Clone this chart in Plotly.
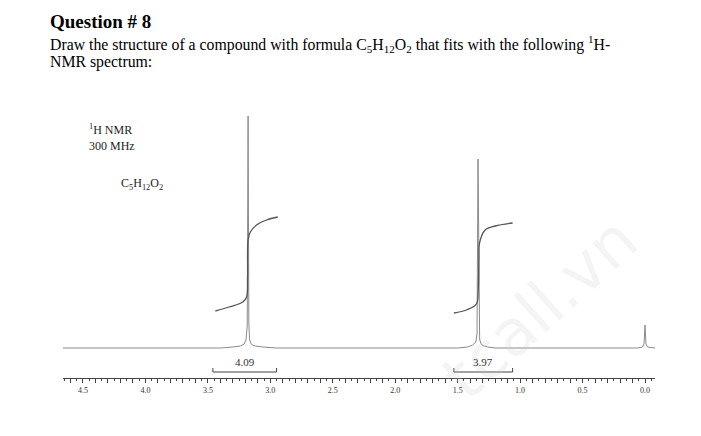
import plotly.graph_objects as go

# 1H NMR spectrum (ppm vs. intensity, baseline = 0)
spec_ppm = [4.66, 3.40, 3.30, 3.24, 3.21, 3.195, 3.185, 3.178, 3.172, 3.166, 3.158,
            3.145, 3.12, 3.06, 2.95, 1.50, 1.42, 1.38, 1.355, 1.345, 1.337, 1.330,
            1.324, 1.316, 1.305, 1.29, 1.26, 1.20, 0.06, 0.02, 0.008, 0.0, -0.008,
            -0.02, -0.08]
spec_int = [0, 0, 1, 2, 4, 8, 22, 232, 24, 9, 5,
            3, 2, 1, 0, 0, 1, 3, 6, 14, 189, 20,
            9, 5, 3, 2, 1, 0, 0, 1, 4, 23, 4,
            1, 0]

# integral traces
int1_ppm = [3.44, 3.33, 3.22, 3.19, 3.182, 3.178, 3.16, 3.11, 3.03, 2.94]
int1_val = [37, 41, 46, 51, 70, 108, 116, 123, 128, 131]
int2_ppm = [1.53, 1.43, 1.35, 1.335, 1.33, 1.325, 1.28, 1.20, 1.06]
int2_val = [35, 38, 44, 60, 90, 105, 118, 122, 125]

# integration brackets (ppm start, ppm end, label)
brk_from = [3.46, 1.53]
brk_to = [2.95, 1.06]
brk_label = ["4.09", "3.97"]

tick_vals = [round(i * 0.1, 1) for i in range(0, 47)]
tick_text = ["%.1f" % v if round(v * 10) % 5 == 0 else "" for v in tick_vals]

# page has an 8px body margin, so the figure is drawn 8px in from the corner
OFF = 8
W, H = 701 - 2 * OFF, 436 - 2 * OFF
L, R, T, B = 55, 38, 92, 50
PW, PH = W - L - R, H - T - B
SERIF = "Liberation Serif, Times New Roman, serif"


def px(x):
    # window pixel -> paper x
    return (x - OFF - L) / PW


def py(y):
    # window pixel -> paper y
    return (H - B - (y - OFF)) / PH


def note(x, y, text, size, color="black", **kw):
    fig.add_annotation(x=px(x), y=py(y), xref="paper", yref="paper",
                       xanchor="left", yanchor="middle", text=text, showarrow=False,
                       font=dict(family=SERIF, size=size, color=color), **kw)


fig = go.Figure()

# watermark (drawn first so it sits under everything)
fig.add_annotation(x=px(540), y=py(308), xref="paper", yref="paper", text="tcall.vn",
                   xanchor="center", yanchor="middle", showarrow=False, textangle=-42,
                   font=dict(family="DejaVu Sans", size=64, color="rgba(200,200,200,0.2)"))

fig.add_trace(go.Scatter(x=spec_ppm, y=spec_int, mode="lines",
                         line=dict(color="#8a8a8a", width=1), hoverinfo="skip"))
fig.add_trace(go.Scatter(x=int1_ppm, y=int1_val, mode="lines", line_shape="spline",
                         line=dict(color="#555555", width=1.3), hoverinfo="skip"))
fig.add_trace(go.Scatter(x=int2_ppm, y=int2_val, mode="lines", line_shape="spline",
                         line=dict(color="#555555", width=1.3), hoverinfo="skip"))

# brackets
for a, b, lab in zip(brk_from, brk_to, brk_label):
    fig.add_trace(go.Scatter(x=[a, a, b, b], y=[-20, -24, -24, -20], mode="lines",
                             line=dict(color="#444444", width=1), hoverinfo="skip"))
    fig.add_annotation(x=(a + b) / 2, y=-14, text=lab, showarrow=False,
                       xanchor="center", yanchor="middle",
                       font=dict(family=SERIF, size=11, color="#333333"))

# header text
note(48, 22, "<b>Question # 8</b>", 19)
note(48, 44, "Draw the structure of a compound with formula C<sub>5</sub>H<sub>12</sub>O<sub>2</sub>"
             " that fits with the following <sup>1</sup>H-", 15.8)
note(48, 62, "NMR spectrum:", 15.8)

# spectrum labels
note(87, 129, "<sup>1</sup>H NMR", 12, "#222222")
note(87, 146, "300 MHz", 12, "#222222")
note(119, 184, "C<sub>5</sub>H<sub>12</sub>O<sub>2</sub>", 12, "#222222")

fig.update_layout(
    width=W, height=H, autosize=False,
    margin=dict(l=L, r=R, t=T, b=B),
    plot_bgcolor="white", paper_bgcolor="white",
    showlegend=False,
    xaxis=dict(range=[4.66, -0.08], showgrid=False, zeroline=False,
               showline=True, linecolor="#444444", linewidth=1,
               ticks="outside", ticklen=4, tickcolor="#444444", tickwidth=1,
               tickvals=tick_vals, ticktext=tick_text,
               minor=dict(dtick=0.05, tick0=0, ticks="outside", ticklen=2, tickcolor="#444444"),
               tickfont=dict(family=SERIF, size=8, color="#333333")),
    yaxis=dict(range=[-30, 248], visible=False, showgrid=False, zeroline=False),
)

fig.write_html("out.html")
